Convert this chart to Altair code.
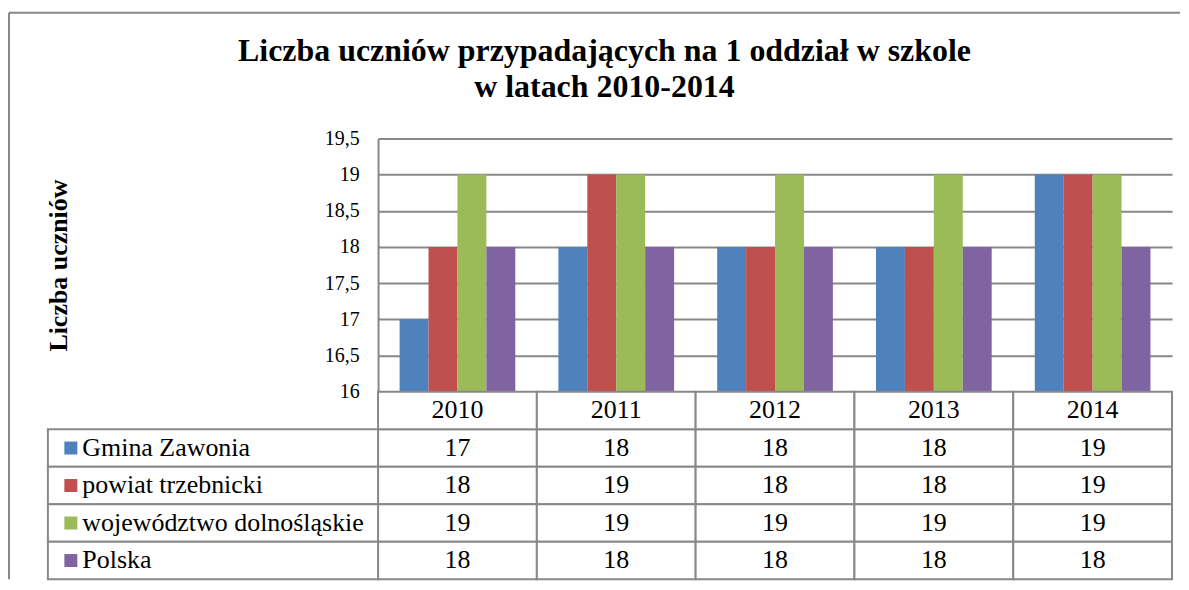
import altair as alt
import pandas as pd

# ---- data -------------------------------------------------------------
YEARS = ["2010", "2011", "2012", "2013", "2014"]
SERIES = ["Gmina Zawonia", "powiat trzebnicki", "województwo dolnośląskie", "Polska"]
GMINA = [17, 18, 18, 18, 19]
POWIAT = [18, 19, 18, 18, 19]
WOJ = [19, 19, 19, 19, 19]
POLSKA = [18, 18, 18, 18, 18]
COLORS = ["#4F81BD", "#C0504D", "#9BBB59", "#8064A2"]
Y_TICKS = [16, 16.5, 17, 17.5, 18, 18.5, 19, 19.5]
TITLE = ["Liczba uczniów przypadających na 1 oddział w szkole", "w latach 2010-2014"]
Y_TITLE = "Liczba uczniów"
HEADER = "header"

rows = []
for s, vals in zip(SERIES, [GMINA, POWIAT, WOJ, POLSKA]):
    for yr, v in zip(YEARS, vals):
        rows.append({"year": yr, "row": s, "value": v})
df = pd.DataFrame(rows)
years_df = pd.DataFrame({"year": YEARS, "row": [HEADER] * len(YEARS)})
series_df = pd.DataFrame({"row": SERIES})
one_df = pd.DataFrame({"k": [0]})

# ---- layout / style ---------------------------------------------------
W = 796
H_BAR = 254
H_TAB = 188
GRID = "#888888"
FONT = "Liberation Serif"

x_scale = alt.Scale(domain=YEARS, paddingInner=0, paddingOuter=0)
color_scale = alt.Scale(domain=SERIES, range=COLORS)
y_tab = alt.Scale(type="band", domain=[HEADER] + SERIES, paddingInner=0, paddingOuter=0)

# ---- bar chart --------------------------------------------------------
bars = alt.Chart(df).mark_bar(clip=True).encode(
    x=alt.X("year:N", scale=x_scale, axis=None),
    xOffset=alt.XOffset("row:N", scale=alt.Scale(domain=SERIES, paddingInner=0, paddingOuter=0.745)),
    y=alt.Y(
        "value:Q",
        scale=alt.Scale(domain=[16, 19.5], zero=False, nice=False),
        axis=alt.Axis(
            values=Y_TICKS,
            labelExpr="replace(toString(datum.value), '.', ',')",
            title=Y_TITLE,
            grid=True, gridColor=GRID, gridWidth=2,
            domain=True, domainColor=GRID, domainWidth=2,
            ticks=False,
            labelFont=FONT, labelFontSize=20, labelColor="black", labelPadding=19,
            titleFont=FONT, titleFontSize=26, titleFontWeight="bold", titleColor="black",
            titleAngle=270, titleX=-320, titleY=H_BAR / 2, titleAlign="center",
            titleBaseline="middle",
        ),
    ),
    color=alt.Color("row:N", scale=color_scale, legend=None),
).properties(
    width=W, height=H_BAR,
    title=alt.TitleParams(
        text=TITLE, font=FONT, fontSize=32, fontWeight="bold", color="black",
        anchor="middle", frame="group", dx=-171, offset=24, lineHeight=37,
    ),
)

# ---- data table -------------------------------------------------------
cell_style = dict(fill="white", stroke=GRID, strokeWidth=2)

value_cells = alt.Chart(df).mark_rect(**cell_style).encode(
    x=alt.X("year:N", scale=x_scale, axis=None),
    y=alt.Y(
        "row:N", scale=y_tab,
        axis=alt.Axis(
            title=None, ticks=False, domain=False, grid=False,
            labelAlign="left", labelPadding=297, labelLimit=400,
            labelFont=FONT, labelFontSize=26, labelColor="black",
            labelExpr=f"datum.value == '{HEADER}' ? '' : datum.value",
        ),
    ),
)
header_cells = alt.Chart(years_df).mark_rect(**cell_style).encode(
    x=alt.X("year:N", scale=x_scale, axis=None),
    y=alt.Y("row:N", scale=y_tab),
)
label_cells = alt.Chart(series_df).mark_rect(**cell_style).encode(
    x=alt.value(-331), x2=alt.value(0),
    y=alt.Y("row:N", scale=y_tab),
)

values_text = alt.Chart(df).mark_text(font=FONT, fontSize=26, color="black").encode(
    x=alt.X("year:N", scale=x_scale, axis=None),
    y=alt.Y("row:N", scale=y_tab),
    text="value:Q",
)
header_text = alt.Chart(years_df).mark_text(font=FONT, fontSize=26, color="black").encode(
    x=alt.X("year:N", scale=x_scale, axis=None),
    y=alt.Y("row:N", scale=y_tab),
    text="year:N",
)
keys = alt.Chart(series_df).mark_square(size=169, opacity=1).encode(
    x=alt.value(-308),
    y=alt.Y("row:N", scale=y_tab),
    color=alt.Color("row:N", scale=color_scale, legend=None),
)

# outer frame of the whole chart (top and left edges)
rule_style = dict(color=GRID, strokeWidth=2)
frame_top = alt.Chart(one_df).mark_rule(**rule_style).encode(
    x=alt.value(-370), x2=alt.value(804), y=alt.value(-(H_BAR + 126))
)
frame_left = alt.Chart(one_df).mark_rule(**rule_style).encode(
    x=alt.value(-370), y=alt.value(-(H_BAR + 126)), y2=alt.value(H_TAB)
)

table = alt.layer(
    value_cells, header_cells, label_cells,
    keys, header_text, values_text, frame_top, frame_left,
).properties(width=W, height=H_TAB)

chart = alt.vconcat(bars, table, spacing=0, bounds="flush").configure_view(
    stroke=None
).properties(
    padding={"left": 0, "top": 3, "right": 0, "bottom": 0}
)

chart.save("out.html", embed_options={"renderer": "svg", "actions": False})
